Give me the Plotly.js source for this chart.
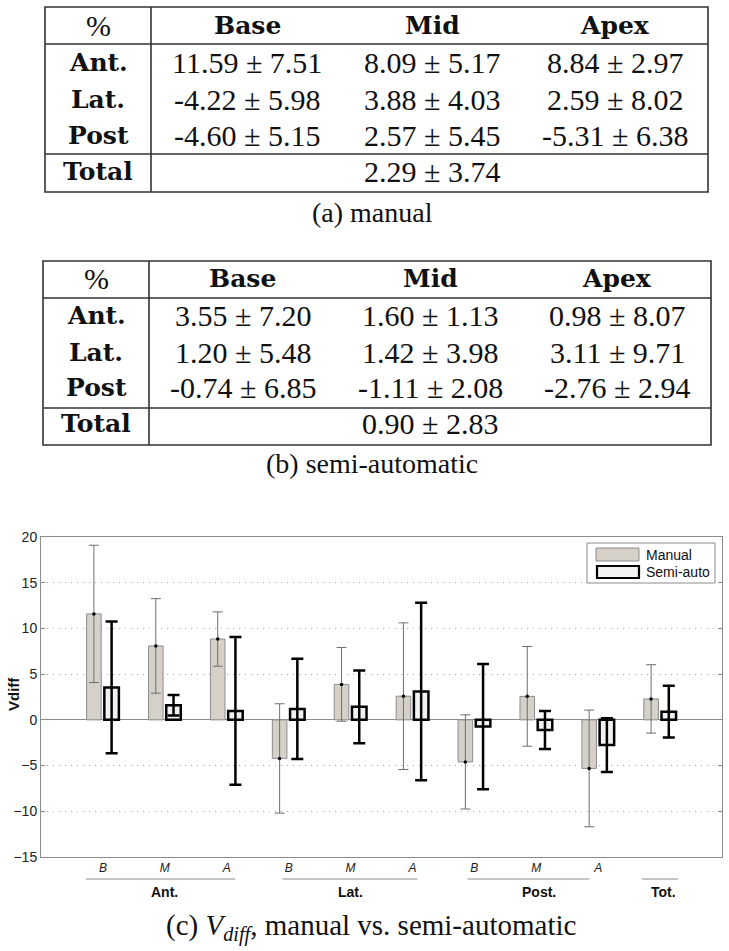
<!DOCTYPE html>
<html>
<head>
<meta charset="utf-8">
<script src="https://cdn.plot.ly/plotly-3.0.1.min.js"></script>
<style>html,body{margin:0;padding:0;background:#fff;}#chart{width:729px;height:951px;}</style>
</head>
<body>
<div id="chart"></div>
<script>
// ---------------- data ----------------
const rowLabels = ['Ant.', 'Lat.', 'Post'];
const colLabels = ['Base', 'Mid', 'Apex'];
const manualMean = [[11.59, 8.09, 8.84], [-4.22, 3.88, 2.59], [-4.60, 2.57, -5.31]];
const manualStd  = [[7.51, 5.17, 2.97], [5.98, 4.03, 8.02], [5.15, 5.45, 6.38]];
const manualTotal = [2.29, 3.74];
const semiMean = [[3.55, 1.60, 0.98], [1.20, 1.42, 3.11], [-0.74, -1.11, -2.76]];
const semiStd  = [[7.20, 1.13, 8.07], [5.48, 3.98, 9.71], [6.85, 2.08, 2.94]];
const semiTotal = [0.90, 2.83];
const tickLabels = ['B', 'M', 'A', 'B', 'M', 'A', 'B', 'M', 'A'];
const groupLabels = ['Ant.', 'Lat.', 'Post.', 'Tot.'];
const legendNames = ['Manual', 'Semi-auto'];
const yTicks = [-15, -10, -5, 0, 5, 10, 15, 20];

// ---------------- geometry helpers (pixel -> paper) ----------------
const L = 41, R = 722, T = 537, B = 857;
const px = v => (v - L) / (R - L);
const py = v => (B - v) / (B - T);

// series for the bar chart
const flat = a => a.reduce((acc, r) => acc.concat(r), []);
const mVals = flat(manualMean).concat([manualTotal[0]]);
const mErr  = flat(manualStd).concat([manualTotal[1]]);
const sVals = flat(semiMean).concat([semiTotal[0]]);
const sErr  = flat(semiStd).concat([semiTotal[1]]);
const xPos = mVals.map((_, i) => i + 1);

const BW = 0.235, OFF_M = -0.263, OFF_S = 0.023;

const traces = [
  {
    type: 'bar', x: xPos, y: mVals, width: BW, offset: OFF_M,
    marker: {color: '#d5d1c9', line: {color: '#8c8c8c', width: 1}},
    error_y: {type: 'data', array: mErr, visible: true, color: '#6e6e6e', thickness: 1, width: 5},
    hoverinfo: 'skip'
  },
  {
    type: 'bar', x: xPos, y: sVals, width: BW, offset: OFF_S,
    marker: {color: '#f1f1f1', line: {color: '#000', width: 2.5}},
    error_y: {type: 'data', array: sErr, visible: true, color: '#000', thickness: 2.5, width: 6},
    hoverinfo: 'skip'
  },
  {
    type: 'scatter', mode: 'markers', x: xPos.map(v => v + OFF_M + BW / 2), y: mVals,
    marker: {color: '#000', size: 3.5}, hoverinfo: 'skip'
  }
];

const shapes = [];
const annotations = [];

// ---------------- tables ----------------
const numFont = {family: 'Liberation Serif, serif', size: 30, color: '#111'};
const boldFont = {family: 'DejaVu Serif, serif', size: 25, color: '#111'};
const lineStyle = {color: '#333', width: 1.6};

function drawTable(box, hLines, vLine, colX, rowY, mean, std, total) {
  shapes.push({type: 'rect', xref: 'paper', yref: 'paper', x0: px(box[0]), x1: px(box[1]), y0: py(box[2]), y1: py(box[3]), line: lineStyle});
  hLines.forEach(h => shapes.push({type: 'line', xref: 'paper', yref: 'paper', x0: px(box[0]), x1: px(box[1]), y0: py(h), y1: py(h), line: lineStyle}));
  shapes.push({type: 'line', xref: 'paper', yref: 'paper', x0: px(vLine), x1: px(vLine), y0: py(box[2]), y1: py(box[3]), line: lineStyle});
  const txt = (t, x, y, f) => annotations.push({xref: 'paper', yref: 'paper', x: px(x), y: py(y), text: t, showarrow: false, xanchor: 'center', yanchor: 'middle', font: f});
  txt('%', colX[0], rowY[0], numFont);
  colLabels.forEach((c, j) => txt('<b>' + c + '</b>', colX[j + 1], rowY[0], boldFont));
  rowLabels.forEach((r, i) => {
    txt('<b>' + r + '</b>', colX[0], rowY[i + 1], boldFont);
    colLabels.forEach((c, j) => txt(mean[i][j].toFixed(2) + ' ± ' + std[i][j].toFixed(2), colX[j + 1], rowY[i + 1], numFont));
  });
  txt('<b>Total</b>', colX[0], rowY[4], boldFont);
  txt(total[0].toFixed(2) + ' ± ' + total[1].toFixed(2), colX[2], rowY[4], numFont);
}

drawTable([45, 708, 7, 192], [44, 154], 151, [98, 247, 432, 615], [25, 63, 99, 135, 171], manualMean, manualStd, manualTotal);
drawTable([43, 711, 261, 445], [298, 408], 149, [96, 243, 430, 617], [278, 315, 352, 387, 423], semiMean, semiStd, semiTotal);

const capFont = {family: 'Liberation Serif, serif', size: 28, color: '#111'};
annotations.push({xref: 'paper', yref: 'paper', x: px(372), y: py(213), text: '(a) manual', showarrow: false, xanchor: 'center', yanchor: 'middle', font: capFont});
annotations.push({xref: 'paper', yref: 'paper', x: px(372), y: py(463), text: '(b) semi-automatic', showarrow: false, xanchor: 'center', yanchor: 'middle', font: capFont});
annotations.push({xref: 'paper', yref: 'paper', x: px(371), y: py(927), text: '(c) <i>V</i><sub><i>diff</i></sub>, manual vs. semi-automatic', showarrow: false, xanchor: 'center', yanchor: 'middle', font: {family: 'Liberation Serif, serif', size: 29, color: '#111'}});

// ---------------- chart extras ----------------
const sans = 'Liberation Sans, Arial, sans-serif';
// y axis title
annotations.push({xref: 'paper', yref: 'paper', x: px(13), y: py(694), text: '<b>Vdiff</b>', textangle: -90, showarrow: false, xanchor: 'center', yanchor: 'middle', font: {family: sans, size: 15, color: '#111'}});

// group underlines and labels
const groupSpans = [[0.725, 3.136], [3.90, 6.08], [6.89, 8.86], [9.71, 10.29]];
const groupCenters = [2, 5, 8.04, 10.06];
groupLabels.forEach((g, k) => {
  shapes.push({type: 'line', xref: 'x', yref: 'paper', x0: groupSpans[k][0], x1: groupSpans[k][1], y0: py(879), y1: py(879), line: {color: '#8c8c8c', width: 1}});
  annotations.push({xref: 'x', yref: 'paper', x: groupCenters[k], y: py(892), text: '<b>' + g + '</b>', showarrow: false, xanchor: 'center', yanchor: 'middle', font: {family: sans, size: 14, color: '#111'}});
});

// legend box
shapes.push({type: 'rect', xref: 'paper', yref: 'paper', layer: 'above', x0: px(587), x1: px(715), y0: py(543), y1: py(583), fillcolor: '#fff', line: {color: '#8c8c8c', width: 1}});
shapes.push({type: 'rect', xref: 'paper', yref: 'paper', layer: 'above', x0: px(596), x1: px(639), y0: py(548), y1: py(561), fillcolor: '#d5d1c9', line: {color: '#8c8c8c', width: 1}});
shapes.push({type: 'rect', xref: 'paper', yref: 'paper', layer: 'above', x0: px(597), x1: px(639), y0: py(566), y1: py(578), fillcolor: '#f1f1f1', line: {color: '#000', width: 2.2}});
annotations.push({xref: 'paper', yref: 'paper', x: px(644), y: py(555), text: legendNames[0], showarrow: false, xanchor: 'left', yanchor: 'middle', font: {family: sans, size: 14, color: '#111'}});
annotations.push({xref: 'paper', yref: 'paper', x: px(644), y: py(572), text: legendNames[1], showarrow: false, xanchor: 'left', yanchor: 'middle', font: {family: sans, size: 14, color: '#111'}});

const layout = {
  width: 729, height: 951,
  margin: {l: L, r: 729 - R, t: T, b: 951 - B, pad: 0},
  paper_bgcolor: '#fff', plot_bgcolor: '#fff',
  showlegend: false,
  barmode: 'overlay',
  font: {family: sans, color: '#222'},
  xaxis: {
    range: [0, 11], tickmode: 'array', tickvals: tickLabels.map((_, i) => i + 1), ticktext: tickLabels.map(t => '<i>' + t + '</i>'),
    tickfont: {family: sans, size: 12, color: '#222'}, ticks: '', showline: true, linecolor: '#8c8c8c', linewidth: 1,
    mirror: true, showgrid: false, zeroline: false, fixedrange: true
  },
  yaxis: {
    range: [-15, 20], tickmode: 'array', tickvals: yTicks,
    tickfont: {family: sans, size: 14, color: '#222'}, ticks: 'inside', ticklen: 4, tickcolor: '#8c8c8c',
    showline: true, linecolor: '#8c8c8c', linewidth: 1, mirror: 'ticks',
    showgrid: true, gridcolor: '#a8a8a8', griddash: '1px,5px', gridwidth: 1,
    zeroline: true, zerolinecolor: '#8c8c8c', zerolinewidth: 1, fixedrange: true
  },
  shapes: shapes,
  annotations: annotations
};

Plotly.newPlot('chart', traces, layout, {staticPlot: true, displayModeBar: false});
</script>
</body>
</html>
